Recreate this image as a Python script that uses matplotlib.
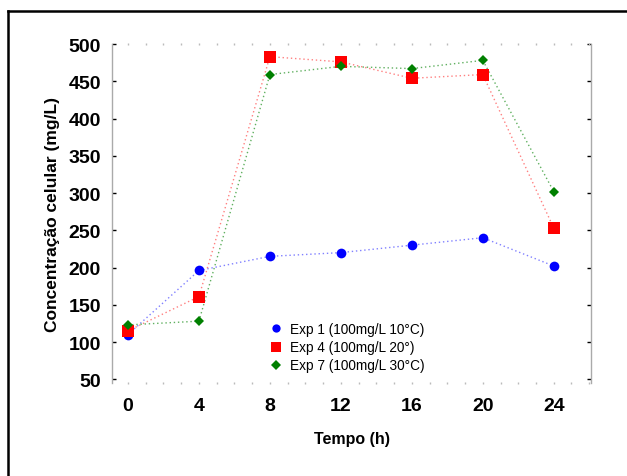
import matplotlib
matplotlib.use("Agg")
import matplotlib.pyplot as plt
from matplotlib.lines import Line2D

plt.rcParams['font.family'] = ['Liberation Sans', 'DejaVu Sans']

tempo = [0, 4, 8, 12, 16, 20, 24]
exp1 = [110, 196, 215, 220, 230, 240, 202]
exp4 = [115, 161, 483, 476, 454, 459, 253]
exp7 = [123, 128, 459, 470, 467, 478, 302]
labels = ["Exp 1 (100mg/L 10°C)", "Exp 4 (100mg/L 20°)", "Exp 7 (100mg/L 30°C)"]
yticks = [50, 100, 150, 200, 250, 300, 350, 400, 450, 500]
xticks = [0, 4, 8, 12, 16, 20, 24]
minor_x = list(range(0, 27))

W, H = 627, 477
fig = plt.figure(figsize=(W/100, H/100), dpi=100)
ax = fig.add_axes([112/W, 1-384/H, (591-112)/W, (384-45)/H])

series = [
    (exp1, 'blue', 'o', 7, '#8080ff'),
    (exp4, 'red', 's', 8, '#ff8080'),
    (exp7, 'green', 'D', 5.5, '#60b060'),
]
for (vals, c, m, ms, lc), lab in zip(series, labels):
    ax.plot(tempo, vals, linestyle=(0, (1, 2)), color=lc, lw=1.0, zorder=2)
    ax.plot(tempo, vals, linestyle='none', marker=m, color=c, markersize=ms,
            markeredgewidth=0, zorder=3, label=lab)

ax.set_xlim(-0.9, 26.1)
ax.set_ylim(45, 500)
ax.set_xticks(xticks)
ax.set_yticks(yticks)
ax.set_xticklabels([str(v) for v in xticks], fontsize=14, fontweight='bold')
ax.set_yticklabels([str(v) for v in yticks], fontsize=14, fontweight='bold')
ax.tick_params(axis='x', length=0, pad=10)
ax.tick_params(axis='y', length=3, width=1, color='black', pad=8, direction='in',
               right=True)

for s in ['left', 'right']:
    ax.spines[s].set_color('#aaaaaa')
    ax.spines[s].set_linewidth(1)
for s in ['top', 'bottom']:
    ax.spines[s].set_visible(False)

# light minor tick marks along top and bottom
ax.plot(minor_x, [500]*len(minor_x), linestyle='none', marker='|', markersize=2,
        color='#bbbbbb', clip_on=False)
ax.plot(minor_x, [45]*len(minor_x), linestyle='none', marker='|', markersize=2,
        color='#bbbbbb', clip_on=False)

ax.set_xlabel("Tempo (h)", fontsize=11.5, fontweight='bold', labelpad=12)
ax.set_ylabel("Concentração celular (mg/L)", fontsize=12.5, fontweight='bold', labelpad=6)

leg = ax.legend(loc='upper left', bbox_to_anchor=((256-112)/(591-112), (384-311)/(384-45)),
                frameon=False, fontsize=9.8, handletextpad=0.4, labelspacing=0.3,
                handlelength=1.2, markerscale=0.85)

# outer frame
fig.add_artist(Line2D([8/W, 1], [1-12/H, 1-12/H], color='black', lw=1.8))
fig.add_artist(Line2D([8/W, 8/W], [1-12/H, 0], color='black', lw=1.8))

fig.savefig("out.png", dpi=100)
